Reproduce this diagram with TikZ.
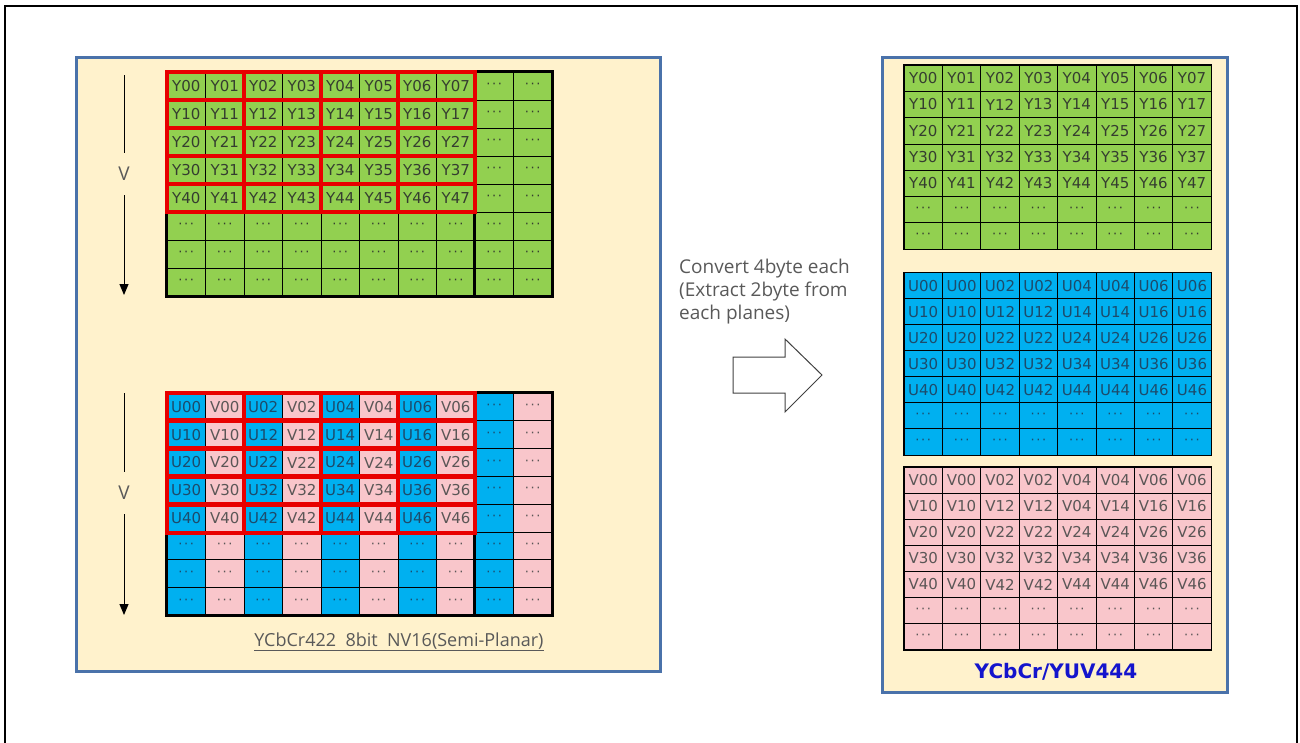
\documentclass[tikz,border=0pt]{standalone}
\usepackage{fontspec}
\setmainfont{DejaVu Sans}
\newfontfamily\uifont{Open Sans}
\usetikzlibrary{arrows.meta}
\definecolor{cream}{HTML}{FFF2CC}
\definecolor{panelblue}{HTML}{4A72AA}
\definecolor{ygreen}{HTML}{92D050}
\definecolor{ublue}{HTML}{00B0F0}
\definecolor{vpink}{HTML}{F9C6CB}
\definecolor{ytext}{HTML}{353D30}
\definecolor{utext}{HTML}{1D4B6B}
\definecolor{vtext}{HTML}{5A5656}
\definecolor{captext}{HTML}{595959}
\definecolor{labblue}{HTML}{1414CC}
\definecolor{redbox}{HTML}{E80000}
\newcommand\dotsxx{{\fontsize{13}{13}\selectfont·\kern1.6pt·\kern1.6pt·}}
\begin{document}
\begin{tikzpicture}[x=1pt,y=-1pt,
  panel/.style={draw=panelblue,line width=3pt,fill=cream},
  cellbase/.style={draw=black,line width=0.8pt,inner sep=0pt,font=\fontsize{15}{15}\selectfont},
  lcell/.style={cellbase,minimum width=38.5pt,minimum height=28pt},
  rcell/.style={cellbase,minimum width=38.4pt,minimum height=26.3pt},
  ycol/.style={fill=ygreen,text=ytext},
  ucol/.style={fill=ublue,text=utext},
  vcol/.style={fill=vpink,text=vtext},
  thickframe/.style={draw=black,line width=3pt},
  redframe/.style={draw=redbox,line width=4pt},
  vlabel/.style={font=\uifont\fontsize{19}{19}\selectfont,text=captext,inner sep=0pt,minimum height=42pt},
  varrow/.style={draw=black,line width=1pt}
]
\useasboundingbox (0,0) rectangle (1300,742);
\draw[line width=2pt] (5,6) rectangle (1297,780);

% panels
\draw[panel] (76,57) rectangle (660,671);
\draw[panel] (882,57) rectangle (1227,692);

% ---------- left top Y plane ----------
\foreach \r in {0,...,7}{
  \foreach \c in {0,...,9}{
    \ifnum\r<5 \ifnum\c<8 \def\t{Y\r\c}\else\def\t{\dotsxx}\fi\else\def\t{\dotsxx}\fi
    \node[lcell,ycol] (LY-\r-\c) at ({167+38.5*(\c+0.5)},{72+28*(\r+0.5)}) {\t};
  }
}
\draw[thickframe] (LY-0-0.north west) rectangle (LY-7-9.south east);
\draw[thickframe] (LY-0-8.north west) -- (LY-7-8.south west);
\foreach \r in {0,...,4}{
  \foreach \p in {0,...,3}{
    \pgfmathtruncatemacro\a{2*\p}\pgfmathtruncatemacro\b{2*\p+1}
    \draw[redframe] (LY-\r-\a.north west) rectangle (LY-\r-\b.south east);
  }
}

% ---------- left bottom UV plane ----------
\foreach \r in {0,...,7}{
  \foreach \c in {0,...,9}{
    \pgfmathtruncatemacro\k{2*int(\c/2)}
    \pgfmathtruncatemacro\odd{mod(\c,2)}
    \ifnum\odd=0 \def\cs{ucol}\def\ch{U}\else\def\cs{vcol}\def\ch{V}\fi
    \ifnum\r<5 \ifnum\c<8 \edef\t{\ch\r\k}\else\def\t{\dotsxx}\fi\else\def\t{\dotsxx}\fi
    \node[lcell,\cs] (LU-\r-\c) at ({167+38.5*(\c+0.5)},{393+27.8*(\r+0.5)}) {\t};
  }
}
\draw[thickframe] (LU-0-0.north west) rectangle (LU-7-9.south east);
\draw[thickframe] (LU-0-8.north west) -- (LU-7-8.south west);
\foreach \r in {0,...,4}{
  \foreach \p in {0,...,3}{
    \pgfmathtruncatemacro\a{2*\p}\pgfmathtruncatemacro\b{2*\p+1}
    \draw[redframe] (LU-\r-\a.north west) rectangle (LU-\r-\b.south east);
  }
}

% V arrows
\node[vlabel] (V1) at (124,174) {V};
\coordinate (V1top) at (124,75);
\coordinate (V1bot) at (124,295);
\draw[varrow] (V1top) -- (V1.north);
\draw[varrow,-{Triangle[width=9pt,length=11pt]}] (V1.south) -- (V1bot);
\node[vlabel] (V2) at (124,493) {V};
\coordinate (V2top) at (124,393);
\coordinate (V2bot) at (124,615);
\draw[varrow] (V2top) -- (V2.north);
\draw[varrow,-{Triangle[width=9pt,length=11pt]}] (V2.south) -- (V2bot);

% caption
\node[font=\uifont\fontsize{18}{18}\selectfont,text=captext,anchor=base] (cap) at (399,646)
  {\underline{YCbCr422\ \ 8bit\ \ NV16(Semi-Planar)}};

% ---------- conversion text and arrow ----------
\node[font=\uifont\fontsize{19}{23}\selectfont,text=captext,align=left,anchor=north west,inner sep=0pt] (conv) at (679,259)
  {Convert 4byte each\\(Extract 2byte from\\each planes)};
\draw[line width=1pt,draw=black!75] (733,357) -- (785,357) -- (785,339) -- (822,375) -- (785,412) -- (785,393) -- (733,393) -- cycle;

% ---------- right Y plane ----------
\foreach \r in {0,...,6}{
  \foreach \c in {0,...,7}{
    \ifnum\r<5 \def\t{Y\r\c}\else\def\t{\dotsxx}\fi
    \node[rcell,ycol] (RY-\r-\c) at ({904+38.4*(\c+0.5)},{65+26.3*(\r+0.5)}) {\t};
  }
}
% ---------- right U plane ----------
\foreach \r in {0,...,6}{
  \foreach \c in {0,...,7}{
    \pgfmathtruncatemacro\k{2*int(\c/2)}
    \ifnum\r<5 \edef\t{U\r\k}\else\def\t{\dotsxx}\fi
    \node[rcell,ucol] (RU-\r-\c) at ({904+38.4*(\c+0.5)},{273+26*(\r+0.5)}) {\t};
  }
}
% ---------- right V plane ----------
\foreach \r in {0,...,6}{
  \foreach \c in {0,...,7}{
    \pgfmathtruncatemacro\k{2*int(\c/2)}
    \ifnum\r<5 \edef\t{V\r\k}\else\def\t{\dotsxx}\fi
    \ifnum\r=1 \ifnum\c=4 \def\t{V04}\fi\fi
    \node[rcell,vcol] (RV-\r-\c) at ({904+38.4*(\c+0.5)},{467+26.1*(\r+0.5)}) {\t};
  }
}
\foreach \g in {RY,RU,RV}{
  \draw[line width=1.2pt] (\g-0-0.north west) rectangle (\g-6-7.south east);
}
\node[font=\bfseries\fontsize{20}{20}\selectfont,text=labblue] (lab) at (1056,672) {YCbCr/YUV444};
\end{tikzpicture}
\end{document}
